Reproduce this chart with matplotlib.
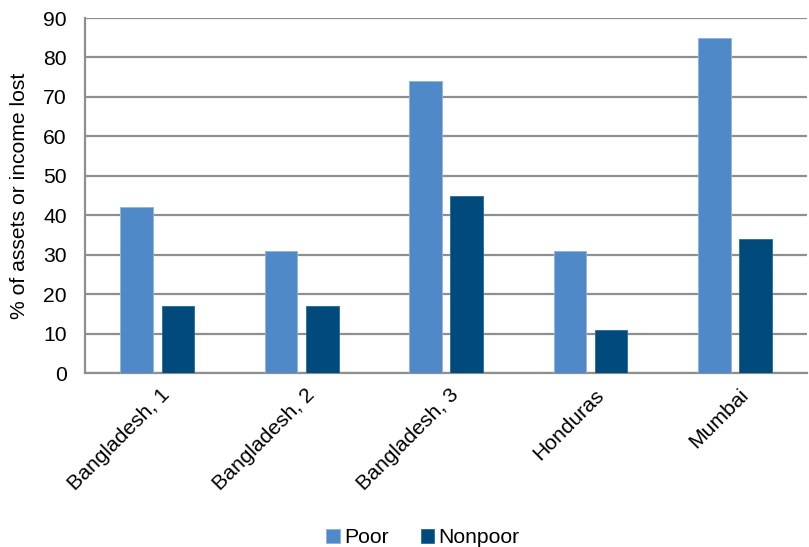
import matplotlib.pyplot as plt
import matplotlib.transforms as mtransforms
import numpy as np

plt.rcParams['font.family'] = ['Liberation Sans', 'DejaVu Sans']

categories = ['Bangladesh, 1', 'Bangladesh, 2', 'Bangladesh, 3', 'Honduras', 'Mumbai']
poor = [42, 31, 74, 31, 85]
nonpoor = [17, 17, 45, 11, 34]

poor_color = '#4F89C8'
nonpoor_color = '#004A7C'
grid_color = '#8F8F8F'
fs = 15.2

fig = plt.figure(figsize=(8.09, 5.47), dpi=100)
ax = fig.add_axes([0.105, 0.318, 0.893, 0.649])

x = np.arange(len(categories))
w = 0.225
gap = 0.06
ax.bar(x - (w + gap) / 2, poor, w, color=poor_color, label='Poor', zorder=3,
       edgecolor='#8FB3DE', linewidth=0.6)
ax.bar(x + (w + gap) / 2, nonpoor, w, color=nonpoor_color, label='Nonpoor', zorder=3,
       edgecolor='#2A6A9A', linewidth=0.6)

ax.set_xlim(-0.5, len(categories) - 0.5)
ax.set_ylim(0, 90)
ax.set_yticks(range(0, 91, 10))
ax.yaxis.grid(True, color=grid_color, linewidth=1.6)
ax.set_axisbelow(True)

for side in ['top', 'right']:
    ax.spines[side].set_visible(False)
for side in ['left', 'bottom']:
    ax.spines[side].set_color(grid_color)
    ax.spines[side].set_linewidth(1.6)

ax.tick_params(axis='both', length=0, labelsize=fs, colors='#000000')
ax.tick_params(axis='y', pad=13)
ax.set_xticks(x)
ax.set_xticklabels(categories, rotation=45, ha='right', va='center',
                   rotation_mode='anchor')
# shift the rotated labels so their end sits just under the group centre
offset = mtransforms.ScaledTranslation(10 / 100, -14 / 100, fig.dpi_scale_trans)
for lbl in ax.get_xticklabels():
    lbl.set_transform(lbl.get_transform() + offset)

ax.set_ylabel('% of assets or income lost', fontsize=fs, labelpad=10)

fig.legend(loc='lower center', bbox_to_anchor=(0.523, -0.035), ncol=2, frameon=False,
           fontsize=fs, handlelength=0.65, handleheight=0.65, handletextpad=0.2,
           columnspacing=1.5)

fig.savefig('out.png', dpi=100)
